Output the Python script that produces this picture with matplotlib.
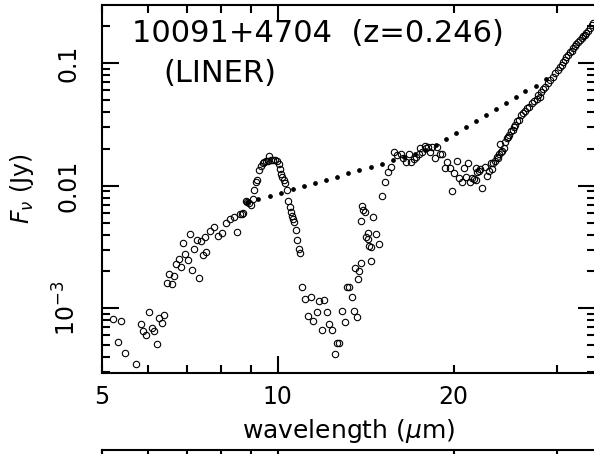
import matplotlib
matplotlib.use('Agg')
import matplotlib.pyplot as plt
from matplotlib.ticker import FixedLocator, FixedFormatter, NullFormatter

plt.rcParams['font.family'] = ['DejaVu Sans']
plt.rcParams['mathtext.fontset'] = 'dejavusans'

# observed spectrum (open circles): wavelength [micron], flux density [Jy]
wavelength = [
    5.22, 5.40, 5.34, 5.47, 5.72, 5.84, 5.89, 5.96, 6.02, 6.09,
    6.15, 6.21, 6.27, 6.34, 6.40, 6.46, 6.52, 6.59, 6.65, 6.71,
    6.77, 6.83, 6.89, 6.95, 7.02, 7.08, 7.14, 7.20, 7.27, 7.33,
    7.38, 7.45, 7.52, 7.55, 7.66, 7.79, 7.90, 8.04, 8.16, 8.28,
    8.41, 8.53, 8.61, 8.69, 8.73, 8.82, 8.87, 8.93, 8.99, 9.06,
    9.12, 9.18, 9.23, 9.30, 9.36, 9.43, 9.49, 9.55, 9.61, 9.68,
    9.75, 9.83, 9.91, 9.97, 10.04, 10.09, 10.13, 10.18, 10.24, 10.30,
    10.37, 10.43, 10.49, 10.54, 10.59, 10.63, 10.68, 10.75, 10.80, 10.86,
    10.92, 11.01, 11.12, 11.27, 11.39, 11.49, 11.66, 11.75, 11.89, 12.02,
    12.13, 12.25, 12.39, 12.52, 12.62, 12.72, 12.88, 13.02, 13.12, 13.24,
    13.38, 13.52, 13.58, 13.65, 13.70, 13.79, 13.87, 13.90, 13.95, 13.99,
    14.09, 14.18, 14.26, 14.29, 14.33, 14.42, 14.46, 14.56, 14.73, 14.92,
    15.10, 15.28, 15.46, 15.61, 15.81, 16.01, 16.23, 16.38, 16.56, 16.75,
    16.91, 17.11, 17.26, 17.43, 17.52, 17.68, 17.84, 17.96, 18.10, 18.22,
    18.36, 18.58, 18.75, 18.95, 19.10, 19.31, 19.50, 19.69, 19.87, 20.02,
    20.24, 20.42, 20.64, 20.83, 20.97, 21.13, 21.35, 21.47, 21.67, 21.80,
    21.84, 21.90, 22.07, 22.18, 22.38, 22.62, 22.83, 22.98, 23.14, 23.23,
    23.38, 23.53, 23.69, 23.81, 23.94, 23.96, 24.07, 24.22, 24.38, 24.48,
    24.64, 24.77, 24.87, 25.03, 25.23, 25.36, 25.46, 25.69, 25.90, 26.10,
    26.31, 26.48, 26.73, 26.94, 27.19, 27.44, 27.73, 27.91, 28.10, 28.26,
    28.46, 28.71, 29.03, 29.28, 29.61, 29.86, 30.19, 30.40, 30.60, 30.82,
    31.00, 31.19, 31.41, 31.62, 31.83, 32.06, 32.25, 32.44, 32.67, 32.89,
    33.11, 33.34, 33.54, 33.74, 33.98, 34.21, 34.44, 34.62,
]
flux = [
    8.23e-4, 7.83e-4, 5.34e-4, 4.29e-4, 3.53e-4, 7.49e-4, 6.49e-4, 6.02e-4, 9.38e-4, 6.87e-4,
    6.56e-4, 5.08e-4, 8.38e-4, 7.54e-4, 8.77e-4, 1.60e-3, 1.90e-3, 1.58e-3, 1.84e-3, 2.31e-3,
    2.54e-3, 2.16e-3, 3.43e-3, 2.79e-3, 2.48e-3, 4.02e-3, 2.04e-3, 3.05e-3, 3.63e-3, 1.76e-3,
    3.56e-3, 2.72e-3, 3.80e-3, 2.87e-3, 4.25e-3, 4.61e-3, 3.87e-3, 4.14e-3, 4.94e-3, 5.33e-3,
    5.53e-3, 4.22e-3, 5.85e-3, 5.91e-3, 5.95e-3, 7.54e-3, 7.40e-3, 7.18e-3, 6.92e-3, 7.79e-3,
    9.22e-3, 1.08e-2, 1.12e-2, 1.35e-2, 1.46e-2, 1.53e-2, 1.57e-2, 1.58e-2, 1.60e-2, 1.76e-2,
    1.63e-2, 1.62e-2, 1.63e-2, 1.58e-2, 1.50e-2, 1.37e-2, 1.25e-2, 1.19e-2, 1.11e-2, 1.05e-2,
    9.22e-3, 7.46e-3, 6.66e-3, 6.14e-3, 5.69e-3, 5.32e-3, 5.08e-3, 4.37e-3, 3.60e-3, 3.04e-3,
    2.82e-3, 1.48e-3, 1.18e-3, 8.65e-4, 1.23e-3, 7.92e-4, 9.38e-4, 1.15e-3, 6.65e-4, 1.17e-3,
    9.28e-4, 7.40e-4, 6.65e-4, 4.24e-4, 5.24e-4, 5.24e-4, 9.56e-4, 7.73e-4, 1.50e-3, 1.50e-3,
    1.24e-3, 9.56e-4, 2.12e-3, 8.54e-4, 1.74e-3, 2.02e-3, 2.33e-3, 5.13e-3, 6.84e-3, 6.35e-3,
    6.08e-3, 3.80e-3, 4.14e-3, 3.68e-3, 3.24e-3, 3.15e-3, 2.45e-3, 5.53e-3, 4.06e-3, 3.35e-3,
    8.24e-3, 1.07e-2, 1.29e-2, 1.43e-2, 1.90e-2, 1.79e-2, 1.80e-2, 1.69e-2, 1.55e-2, 1.81e-2,
    1.55e-2, 1.65e-2, 1.71e-2, 1.82e-2, 2.02e-2, 1.87e-2, 2.12e-2, 2.03e-2, 2.08e-2, 1.87e-2,
    2.07e-2, 1.69e-2, 2.07e-2, 1.81e-2, 1.80e-2, 1.39e-2, 1.55e-2, 1.39e-2, 9.05e-3, 1.26e-2,
    1.59e-2, 1.15e-2, 1.07e-2, 1.40e-2, 1.19e-2, 1.52e-2, 1.07e-2, 1.16e-2, 1.13e-2, 1.12e-2,
    1.39e-2, 1.29e-2, 1.33e-2, 1.38e-2, 9.58e-3, 1.43e-2, 1.21e-2, 1.32e-2, 1.53e-2, 1.37e-2,
    1.53e-2, 1.59e-2, 1.73e-2, 1.69e-2, 1.81e-2, 2.19e-2, 1.88e-2, 1.92e-2, 2.04e-2, 2.29e-2,
    2.44e-2, 2.50e-2, 2.60e-2, 2.80e-2, 2.85e-2, 3.02e-2, 3.14e-2, 3.38e-2, 3.44e-2, 3.78e-2,
    3.91e-2, 4.10e-2, 4.29e-2, 4.42e-2, 4.73e-2, 4.92e-2, 5.11e-2, 5.51e-2, 5.34e-2, 5.83e-2,
    6.14e-2, 6.46e-2, 6.87e-2, 7.31e-2, 7.77e-2, 8.33e-2, 8.82e-2, 9.33e-2, 9.69e-2, 0.1025,
    0.1064, 0.1126, 0.1169, 0.1225, 0.1267, 0.1333, 0.1380, 0.1424, 0.1484, 0.1550,
    0.1600, 0.1655, 0.1702, 0.1768, 0.1846, 0.1942, 0.2050, 0.2133,
]

# adopted continuum (dotted curve)
cont_wavelength = [
    8.87, 9.25, 9.70, 10.14, 10.61, 11.09, 11.57, 12.10, 12.62, 13.19,
    13.79, 14.42, 15.06, 15.73, 16.43, 17.15, 17.90, 18.65, 19.40, 20.18,
    20.99, 21.84, 22.71, 23.63, 24.57, 25.56, 26.48, 27.66, 28.77,
]
cont_flux = [
    7.33e-3, 7.85e-3, 8.30e-3, 8.79e-3, 9.36e-3, 9.96e-3, 1.054e-2, 1.115e-2, 1.19e-2, 1.26e-2,
    1.34e-2, 1.42e-2, 1.51e-2, 1.61e-2, 1.72e-2, 1.81e-2, 1.96e-2, 2.17e-2, 2.43e-2, 2.72e-2,
    3.04e-2, 3.38e-2, 3.78e-2, 4.21e-2, 4.73e-2, 5.28e-2, 5.94e-2, 6.57e-2, 7.40e-2,
]

title_line1 = '10091+4704  (z=0.246)'
title_line2 = '(LINER)'
x_major = [10]
x_major_labels = ['10']
x_minor = [5, 6, 7, 8, 9, 20, 30]
x_minor_labels = ['5', '', '', '', '', '20', '']
y_major = [1e-3, 1e-2, 1e-1]
y_major_labels = [r'$10^{-3}$', '0.01', '0.1']
y_minor = [m * 10.0 ** e for e in (-4, -3, -2, -1) for m in range(2, 10)]

fig = plt.figure(figsize=(5.94, 4.54), dpi=100)
ax = fig.add_axes([0.1712, 0.1791, 0.8305, 0.8099])
ax.set_xscale('log')
ax.set_yscale('log')
ax.set_xlim(5, 34.9)
ax.set_ylim(2.98e-4, 0.299)

ax.plot(wavelength, flux, ls='none', marker='o', mfc='none', mec='black',
        ms=4.6, mew=0.8)
ax.plot(cont_wavelength, cont_flux, ls='none', marker='o', color='black', ms=2.4)

ax.xaxis.set_major_locator(FixedLocator(x_major))
ax.xaxis.set_major_formatter(FixedFormatter(x_major_labels))
ax.xaxis.set_minor_locator(FixedLocator(x_minor))
ax.xaxis.set_minor_formatter(FixedFormatter(x_minor_labels))
ax.yaxis.set_major_locator(FixedLocator(y_major))
ax.yaxis.set_major_formatter(FixedFormatter(y_major_labels))
ax.yaxis.set_minor_locator(FixedLocator(y_minor))
ax.yaxis.set_minor_formatter(NullFormatter())

ax.tick_params(which='both', direction='in', top=True, right=True, width=1.5)
ax.tick_params(which='major', length=12)
ax.tick_params(which='minor', length=6)
ax.tick_params(axis='x', which='both', labelsize=17, pad=9)
ax.tick_params(axis='y', which='major', labelsize=17, pad=15, labelrotation=90)
for lab in ax.get_yticklabels():
    lab.set_va('center')
for s in ax.spines.values():
    s.set_linewidth(1.5)

ax.set_xlabel(r'wavelength ($\mu$m)', fontsize=18)
ax.xaxis.set_label_coords(0.5, -0.1586)
ax.xaxis.label.set_va('center')
ax.set_ylabel(r'$F_\nu$ (Jy)', fontsize=17)
ax.yaxis.set_label_coords(-0.1616, 0.5)
ax.yaxis.label.set_va('center')

ax.text(0.0614, 0.9002, title_line1, transform=ax.transAxes, fontsize=22,
        ha='left', va='baseline')
ax.text(0.1243, 0.7914, title_line2, transform=ax.transAxes, fontsize=22,
        ha='left', va='baseline')

# top of the next panel (cut off at the bottom of the figure)
ax2 = fig.add_axes([0.1712, -0.5, 0.8305, 0.5088])
ax2.set_xscale('log')
ax2.set_xlim(5, 34.9)
ax2.xaxis.set_major_locator(FixedLocator(x_major))
ax2.xaxis.set_minor_locator(FixedLocator(x_minor))
ax2.xaxis.set_major_formatter(NullFormatter())
ax2.xaxis.set_minor_formatter(NullFormatter())
ax2.set_yticks([])
ax2.tick_params(which='both', direction='in', top=True, width=1.5)
ax2.tick_params(which='major', length=12)
ax2.tick_params(which='minor', length=6)
for s in ax2.spines.values():
    s.set_linewidth(1.5)

fig.savefig('out.png', dpi=100)
